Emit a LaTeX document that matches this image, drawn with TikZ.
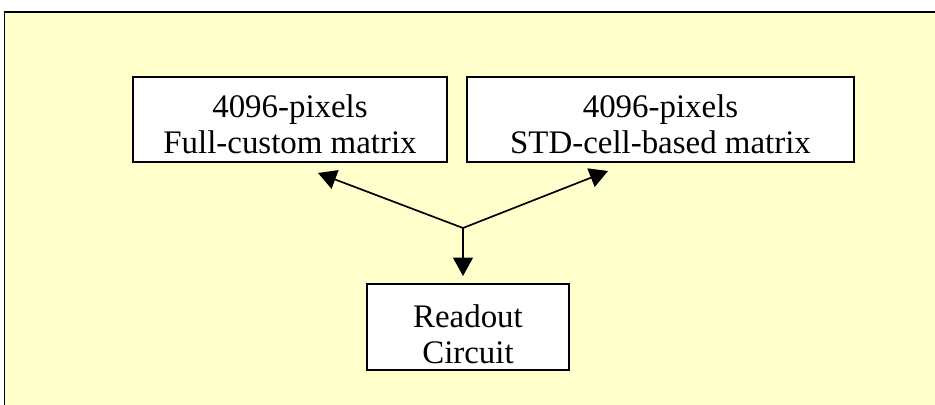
\documentclass[tikz,border=0pt]{standalone}
\usepackage{fontspec}
\setmainfont{Liberation Serif}
\usetikzlibrary{arrows.meta}
\definecolor{paleyellow}{HTML}{FFFFCC}
\tikzset{
    block/.style={draw,line width=1.2pt,fill=white,align=center,inner sep=0pt,
        text height=1.71cm,font=\fontsize{23.4}{25.5}\selectfont},
    link/.style={line width=1.2pt,-{Triangle[length=13pt,width=14pt]}}
}

\begin{document}
\begin{tikzpicture}[x=0.025cm,y=-0.025cm]
        \useasboundingbox (0,0) rectangle (935,405);
        \fill[paleyellow] (4.5,12) rectangle (935,405);
        \draw[line width=1.2pt] (935,12) -- (4.5,12) -- (4.5,405);

        \node[block,minimum width=7.85cm,minimum height=2.125cm] (full) at (290,119.5) {4096-pixels\\Full-custom matrix};

        \node[block,minimum width=9.675cm,minimum height=2.125cm] (std) at (660.5,119.5) {4096-pixels\\STD-cell-based matrix};

        \node[block,minimum width=5.05cm,minimum height=2.15cm,text height=1.81cm] (readout) at (468,327) {Readout\\Circuit};

        \coordinate (hub) at (463,228);
        \coordinate (fulltip) at (318,173);
        \coordinate (stdtip) at (608,171);
        \coordinate (readtip) at (463,276);

        \draw[link] (hub) -- (fulltip);
        \draw[link] (hub) -- (stdtip);
        \draw[link] (hub) -- (readtip);
    \end{tikzpicture}
\end{document}
